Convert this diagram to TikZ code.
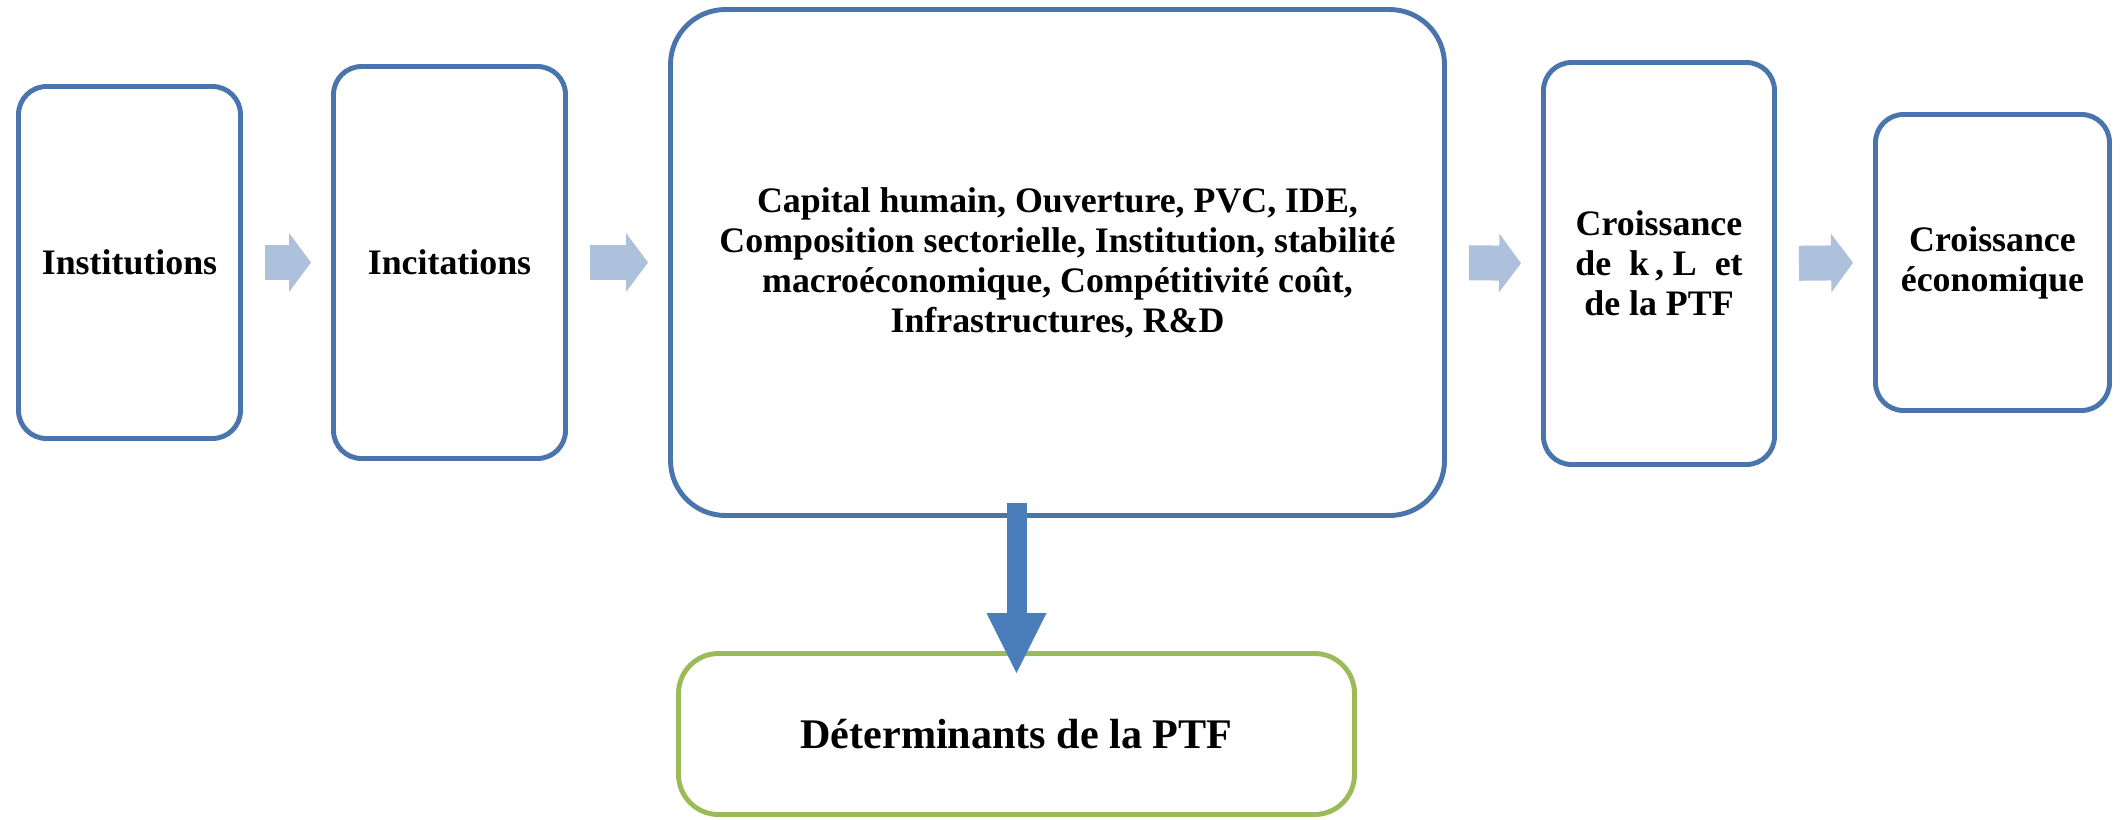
\documentclass[tikz,border=0pt]{standalone}
\usepackage{fontspec}
\setmainfont{Liberation Serif}
\usetikzlibrary{arrows.meta}
\definecolor{bordbleu}{RGB}{74,117,172}
\definecolor{flechebleu}{RGB}{74,126,187}
\definecolor{flecheclair}{RGB}{173,192,220}
\definecolor{bordvert}{RGB}{155,187,89}
\begin{document}
\begin{tikzpicture}[font=\bfseries\fontsize{10.2}{11.4}\selectfont, line join=round,
    boite/.style={draw=bordbleu, line width=1.4pt, fill=white, rounded corners=0.28cm, align=center, inner sep=0pt},
    petite/.style={draw=flecheclair, line width=0.35cm, -{Triangle[length=0.22cm,width=0.59cm,line width=0pt]}, shorten <=0.22cm, shorten >=0.2cm},
    grosse/.style={draw=flechebleu, line width=0.2cm, -{Triangle[length=0.6cm,width=0.6cm,line width=0pt]}}]
    \useasboundingbox (0,0) rectangle (21.21,-8.19);
    \node[boite, minimum width=2.22cm, minimum height=3.52cm] (inst) at (1.295,-2.625) {Institutions};
    \node[boite, minimum width=2.32cm, minimum height=3.92cm] (incit) at (4.495,-2.625) {Incitations};
    \node[boite, minimum width=7.74cm, minimum height=5.06cm, rounded corners=0.55cm] (centre) at (10.575,-2.625)
        {Capital humain, Ouverture, PVC, IDE,\\Composition sectorielle, Institution, stabilité\\macroéconomique, Compétitivité coût,\\Infrastructures, R\&D};
    \node[boite, minimum width=2.31cm, minimum height=4.02cm] (croiss) at (16.59,-2.635) {Croissance\\de~~k\,,~L~~et\\de la PTF};
    \node[boite, minimum width=2.34cm, minimum height=2.96cm] (eco) at (19.925,-2.625) {Croissance\\économique};
    \node[boite, draw=bordvert, minimum width=6.76cm, minimum height=1.61cm, rounded corners=0.4cm,
        font=\bfseries\fontsize{12}{14}\selectfont] (det) at (10.165,-7.34) {Déterminants de la PTF};
    % fleches horizontales
    \draw[petite] (inst.east) -- (incit.west);
    \draw[petite] (incit.east) -- (centre.west);
    \draw[petite] (centre.east) -- (croiss.west);
    \draw[petite] (croiss.east) -- (eco.west);
    % fleche vers les determinants
    \path (det.north |- centre.south) ++(0,0.15) coordinate (haut);
    \path (det.north) ++(0,-0.22) coordinate (bas);
    \draw[grosse] (haut) -- (bas);
\end{tikzpicture}
\end{document}
